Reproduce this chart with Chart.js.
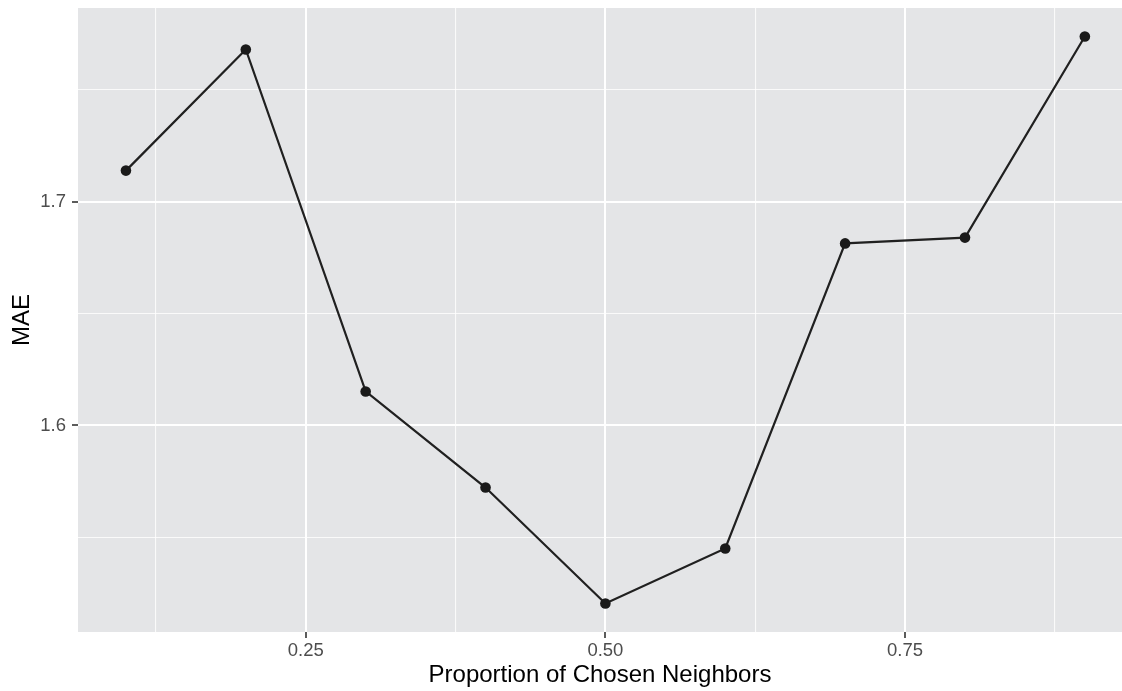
<!DOCTYPE html>
<html>
<head>
<meta charset="utf-8">
<script src="https://cdn.jsdelivr.net/npm/chart.js@4"></script>
<style>
  html, body { margin: 0; padding: 0; background: #ffffff; }
  #wrap { width: 1122px; height: 691px; }
</style>
</head>
<body>
<div id="wrap"><canvas id="c" width="1122" height="691"></canvas></div>
<script>
// Proportion of neighbours used vs. mean absolute error
const proportions = [0.1, 0.2, 0.3, 0.4, 0.5, 0.6, 0.7, 0.8, 0.9];
const maeValues   = [1.7138, 1.7679, 1.6152, 1.5723, 1.5205, 1.5451, 1.6813, 1.6839, 1.7737];

const xMajorTicks = [0.25, 0.5, 0.75];
const xMinorTicks = [0.125, 0.375, 0.625, 0.875];
const xTickLabels = ['0.25', '0.50', '0.75'];

const yMajorTicks = [1.6, 1.7];
const yMinorTicks = [1.55, 1.65, 1.75];
const yTickLabels = ['1.6', '1.7'];

const panelGrey = '#e4e5e7';
const tickGrey = '#4d4d4d';
const fontFamily = '"Liberation Sans", Arial, sans-serif';

function isMajor(list, v) {
  return list.some(t => Math.abs(t - v) < 1e-9);
}

const panelBackground = {
  id: 'panelBackground',
  beforeDraw(chart) {
    const { ctx, chartArea: a } = chart;
    ctx.save();
    ctx.fillStyle = '#ffffff';
    ctx.fillRect(0, 0, chart.width, chart.height);
    ctx.fillStyle = panelGrey;
    ctx.fillRect(a.left, a.top, a.right - a.left, a.bottom - a.top);
    ctx.restore();
  }
};

function gridFor(majors) {
  return {
    drawOnChartArea: true,
    drawTicks: true,
    tickLength: 6,
    color: ctx => isMajor(majors, ctx.tick.value) ? '#ffffff' : 'rgba(255,255,255,0.8)',
    lineWidth: ctx => isMajor(majors, ctx.tick.value) ? 2 : 1.1,
    tickColor: ctx => isMajor(majors, ctx.tick.value) ? '#333333' : 'rgba(0,0,0,0)',
    tickWidth: 1.6
  };
}

// no extra edge padding: the panel runs to the top and right edges
function noEdgePadding(s) {
  s.paddingTop = 0;
  s.paddingBottom = 0;
  s.paddingLeft = 0;
  s.paddingRight = 0;
}

new Chart(document.getElementById('c'), {
  type: 'line',
  data: {
    datasets: [{
      data: proportions.map((p, i) => ({ x: p, y: maeValues[i] })),
      borderColor: '#202020',
      borderWidth: 2.2,
      pointRadius: 5.3,
      pointHoverRadius: 5.3,
      pointBackgroundColor: '#1a1a1a',
      pointBorderColor: '#1a1a1a',
      pointBorderWidth: 0,
      tension: 0,
      fill: false,
      clip: false
    }]
  },
  options: {
    responsive: false,
    animation: false,
    events: [],
    layout: { autoPadding: false, padding: { top: 8, right: 0, bottom: 0, left: 0 } },
    plugins: {
      legend: { display: false },
      tooltip: { enabled: false }
    },
    scales: {
      x: {
        type: 'linear',
        min: 0.06,
        max: 0.931,
        border: { display: false },
        grid: gridFor(xMajorTicks),
        afterBuildTicks: s => {
          s.ticks = [...xMinorTicks, ...xMajorTicks].sort((a, b) => a - b).map(v => ({ value: v }));
        },
        afterFit: s => { s.height = 59; noEdgePadding(s); },
        ticks: {
          autoSkip: false,
          maxRotation: 0,
          padding: 2,
          color: tickGrey,
          font: { family: fontFamily, size: 18.5 },
          callback: v => {
            const i = xMajorTicks.findIndex(t => Math.abs(t - v) < 1e-9);
            return i >= 0 ? xTickLabels[i] : '';
          }
        },
        title: {
          display: true,
          text: 'Proportion of Chosen Neighbors',
          color: '#000000',
          font: { family: fontFamily, size: 24 },
          padding: { top: 0, bottom: 1 }
        }
      },
      y: {
        type: 'linear',
        min: 1.5078,
        max: 1.7864,
        border: { display: false },
        grid: gridFor(yMajorTicks),
        afterBuildTicks: s => {
          s.ticks = [...yMinorTicks, ...yMajorTicks].sort((a, b) => a - b).map(v => ({ value: v }));
        },
        afterFit: s => { s.width = 78; noEdgePadding(s); },
        ticks: {
          autoSkip: false,
          padding: 6,
          color: tickGrey,
          font: { family: fontFamily, size: 18.5 },
          callback: v => {
            const i = yMajorTicks.findIndex(t => Math.abs(t - v) < 1e-9);
            return i >= 0 ? yTickLabels[i] : '';
          }
        },
        title: {
          display: true,
          text: 'MAE',
          color: '#000000',
          font: { family: fontFamily, size: 24 },
          padding: { top: 8, bottom: 0 }
        }
      }
    }
  },
  plugins: [panelBackground]
});
</script>
</body>
</html>
